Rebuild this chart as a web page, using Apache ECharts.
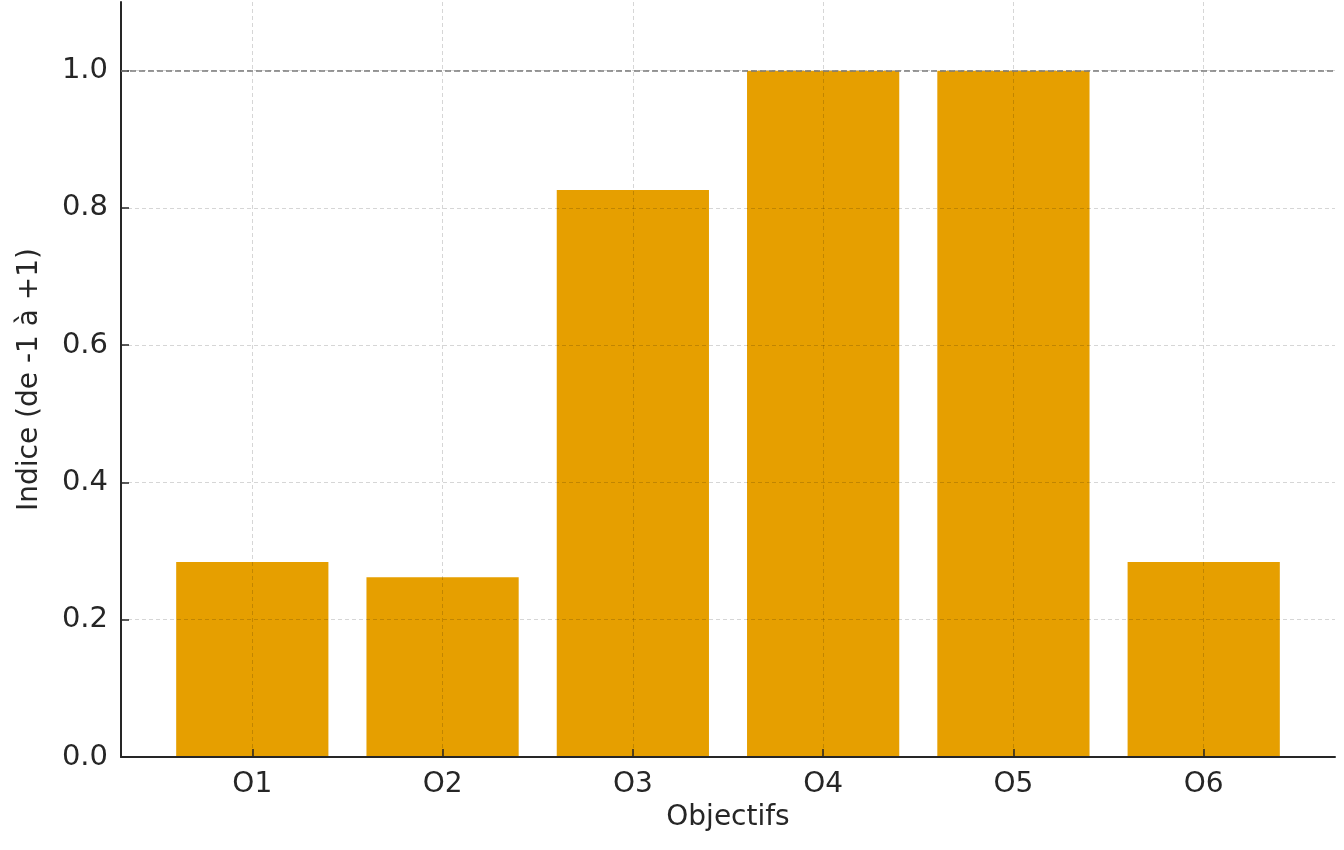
<!DOCTYPE html>
<html>
<head>
<meta charset="utf-8">
<script src="https://cdn.jsdelivr.net/npm/echarts@6/dist/echarts.min.js"></script>
<style>html,body{margin:0;padding:0;background:#fff;}#c{width:1344px;height:850px;}</style>
</head>
<body>
<div id="c"></div>
<script>
const categories = ['O1', 'O2', 'O3', 'O4', 'O5', 'O6'];
const values = [0.284, 0.262, 0.826, 1.0, 1.0, 0.284];
const yTicks = [0, 0.2, 0.4, 0.6, 0.8, 1.0];
const refLine = 1.0;
const xTitle = 'Objectifs';
const yTitle = 'Indice (de -1 à +1)';

const FONT = 'DejaVu Sans';
const idx = categories.map((c, i) => i);
const gridLine = { show: true, lineStyle: { color: 'rgba(0,0,0,0.16)', type: [4, 3], width: 1 } };
const chart = echarts.init(document.getElementById('c'));
chart.setOption({
  animation: false,
  backgroundColor: '#fff',
  grid: { left: 121, right: 9, top: 2, bottom: 93, containLabel: false },
  xAxis: {
    type: 'value',
    z: 3,
    min: -0.69,
    max: categories.length - 1 + 0.69,
    name: xTitle,
    nameLocation: 'middle',
    nameGap: 43,
    nameTextStyle: { fontFamily: FONT, fontSize: 28, color: '#262626' },
    axisLine: { show: true, onZero: false, lineStyle: { color: '#262626', width: 2 } },
    axisTick: { show: true, inside: true, length: 8, customValues: idx, lineStyle: { color: '#262626', width: 1.5 } },
    axisLabel: {
      customValues: idx,
      margin: 14,
      fontFamily: FONT, fontSize: 28, color: '#262626',
      formatter: v => categories[Math.round(v)] || ''
    },
    splitLine: gridLine
  },
  yAxis: {
    type: 'value',
    z: 3,
    min: 0,
    max: 1.1,
    name: yTitle,
    nameLocation: 'middle',
    nameGap: 77,
    nameTextStyle: { fontFamily: FONT, fontSize: 28, color: '#262626' },
    axisLine: { show: true, onZero: false, lineStyle: { color: '#262626', width: 2 } },
    axisTick: { show: true, inside: true, length: 8, customValues: yTicks, lineStyle: { color: '#262626', width: 1.5 } },
    axisLabel: {
      customValues: yTicks,
      margin: 13,
      fontFamily: FONT, fontSize: 29, color: '#262626',
      formatter: v => v.toFixed(1)
    },
    splitLine: gridLine
  },
  series: [{
    type: 'bar',
    barWidth: '80%',
    itemStyle: { color: '#E69F00' },
    data: values.map((v, i) => [i, v]),
    markLine: {
      silent: true,
      symbol: 'none',
      z: 4,
      label: { show: false },
      lineStyle: { color: '#7a7a7a', type: [6, 3], width: 1.5 },
      data: [{ yAxis: refLine }]
    }
  }]
});
</script>
</body>
</html>
